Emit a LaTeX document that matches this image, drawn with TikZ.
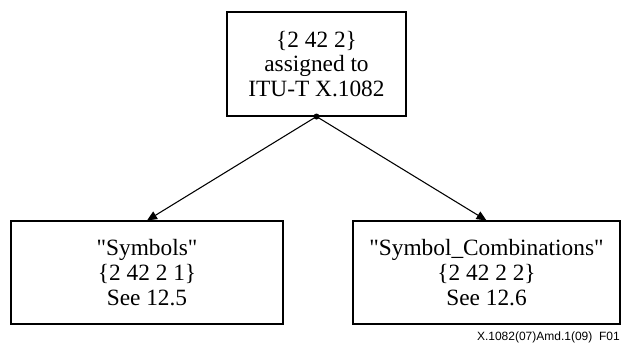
\documentclass[tikz,border=0pt]{standalone}
\usepackage{fontspec}
\setmainfont{Liberation Serif}[Ligatures=TeXOff]
\setsansfont{Liberation Sans}
\usetikzlibrary{arrows.meta}
\begin{document}
\begin{tikzpicture}[x=0.75pt,y=-0.75pt,
  box/.style={draw,line width=0.8pt,inner sep=0pt,align=center,
    font=\fontsize{17.5}{18.5}\selectfont},
  conn/.style={line width=0.8pt,-{Triangle[length=7.5pt,width=6.5pt]}}]
\useasboundingbox (0,0) rectangle (623,345);
\node[box,minimum width=179*0.75pt,minimum height=104*0.75pt] (top) at (316.5,64) {\{2 42 2\}\\assigned to\\ITU-T X.1082};
\node[box,minimum width=272*0.75pt,minimum height=103*0.75pt] (left) at (147,272.5) {"Symbols"\\\{2 42 2 1\}\\See 12.5};
\node[box,minimum width=267*0.75pt,minimum height=103*0.75pt] (right) at (486.5,272.5) {"Symbol\_Combinations"\\\{2 42 2 2\}\\See 12.6};
\fill (top.south) circle[radius=3*0.75pt] coordinate (dot);
\draw[conn] (top.south) -- (left.north);
\draw[conn] (top.south) -- (right.north);
\node[anchor=east,font=\sffamily\fontsize{9}{11}\selectfont,inner sep=0pt] (cap) at (620,337) {X.1082(07)Amd.1(09)\ \ F01};
\end{tikzpicture}
\end{document}
